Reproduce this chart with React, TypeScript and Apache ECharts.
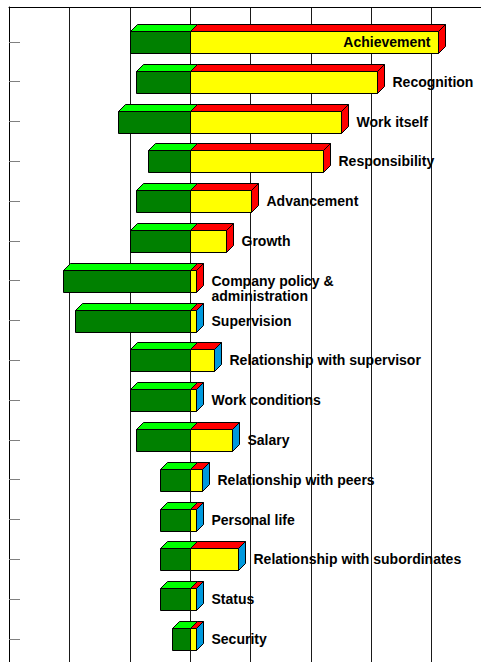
import React, { useEffect, useRef } from "react";
import * as echarts from "echarts";

const categories: string[] = [
  "Achievement",
  "Recognition",
  "Work itself",
  "Responsibility",
  "Advancement",
  "Growth",
  "Company policy &\nadministration",
  "Supervision",
  "Relationship with supervisor",
  "Work conditions",
  "Salary",
  "Relationship with peers",
  "Personal life",
  "Relationship with subordinates",
  "Status",
  "Security",
];

// percentage of events leading to extreme dissatisfaction (negative) / satisfaction (positive)
const dissatisfaction: number[] = [-10, -9, -12, -7, -9, -10, -21, -19, -10, -10, -9, -5, -5, -5, -5, -3];
const satisfaction: number[] = [41, 31, 25, 22, 10, 6, 1, 1, 4, 1, 7, 2, 1, 8, 1, 1];
// M = motivator (red side), H = hygiene (blue side)
const factorGroup: string[] = ["M", "M", "M", "M", "M", "M", "M", "H", "H", "H", "H", "H", "H", "H", "H", "H"];

const xTicks = { min: -30, max: 50, interval: 10 };

const FONT_FAMILY = '"Liberation Sans", Arial, Helvetica, sans-serif';
const VIEW_W = 481;

let measureCtx: CanvasRenderingContext2D | null = null;
function textWidth(s: string): number {
  if (!measureCtx) {
    const c = document.createElement("canvas");
    measureCtx = c.getContext("2d");
  }
  if (!measureCtx) return s.length * 8;
  measureCtx.font = "bold 14px " + FONT_FAMILY;
  return Math.max(...s.split("\n").map((l) => measureCtx!.measureText(l).width));
}

export default function App() {
  const ref = useRef<HTMLDivElement>(null);

  useEffect(() => {
    if (!ref.current) return;
    const chart = echarts.init(ref.current, null, { renderer: "svg" });
    const px = (v: number) => Math.round(v) + 0.5;

    const option: any = {
      animation: false,
      backgroundColor: "#ffffff",
      grid: [
        { left: 9, top: 7, right: 0, bottom: 0, containLabel: false, outerBoundsMode: "none" },
        { left: 9, top: 22, right: 0, height: 636.8, containLabel: false, outerBoundsMode: "none" },
      ],
      xAxis: [
        {
          type: "value",
          gridIndex: 0,
          position: "top",
          min: xTicks.min,
          max: xTicks.max,
          interval: xTicks.interval,
          axisLine: { show: true, onZero: false, lineStyle: { color: "#000", width: 1 } },
          axisTick: { show: false },
          axisLabel: { show: false },
          splitLine: { show: true, lineStyle: { color: "#1a1a1a", width: 1 } },
        },
        {
          type: "value",
          gridIndex: 1,
          min: xTicks.min,
          max: xTicks.max,
          interval: xTicks.interval,
          axisLine: { show: false, onZero: false },
          axisTick: { show: false },
          axisLabel: { show: false },
          splitLine: { show: false },
        },
      ],
      yAxis: [
        {
          type: "value",
          gridIndex: 0,
          min: 0,
          max: 1,
          axisLine: { show: true, onZero: false, lineStyle: { color: "#000", width: 1 } },
          axisTick: { show: false },
          axisLabel: { show: false },
          splitLine: { show: false },
        },
        {
          type: "category",
          gridIndex: 1,
          inverse: true,
          data: categories,
          axisLine: { show: false, onZero: false },
          axisTick: {
            show: true,
            inside: true,
            alignWithLabel: true,
            interval: 0,
            length: 11,
            lineStyle: { color: "#808080", width: 1 },
          },
          axisLabel: { show: false, interval: 0 },
          splitLine: { show: false },
        },
      ],
      series: [
        {
          type: "custom",
          xAxisIndex: 1,
          yAxisIndex: 1,
          clip: false,
          encode: { x: [0, 1], y: 2 },
          data: satisfaction.map((p, i) => [dissatisfaction[i], p, i]),
          renderItem: (params: any, api: any) => {
            const neg = api.value(0);
            const pos = api.value(1);
            const i = api.value(2);
            const c0 = api.coord([0, i]);
            const cy = c0[1];
            const x0 = px(c0[0]);
            const xn = px(api.coord([neg, i])[0]);
            const xp = px(api.coord([pos, i])[0]);
            const top = px(cy - 11);
            const bot = top + 22;
            const d = 7;
            const stroke = { stroke: "#000", lineWidth: 1 };
            const sideColor = factorGroup[i] === "M" ? "#ff0000" : "#0099dd";
            const label = categories[i];
            const w = textWidth(label);
            const outsideX = xp + 15;
            const inside = outsideX + w > VIEW_W;
            const children: any[] = [
              {
                type: "rect",
                shape: { x: xn, y: top, width: x0 - xn, height: bot - top },
                style: { fill: "#008000", ...stroke },
              },
              {
                type: "polygon",
                shape: { points: [[xn, top], [xn + d, top - d], [x0 + d, top - d], [x0, top]] },
                style: { fill: "#00ff00", ...stroke },
              },
              {
                type: "rect",
                shape: { x: x0, y: top, width: xp - x0, height: bot - top },
                style: { fill: "#ffff00", ...stroke },
              },
              {
                type: "polygon",
                shape: { points: [[x0, top], [x0 + d, top - d], [xp + d, top - d], [xp, top]] },
                style: { fill: "#ff0000", ...stroke },
              },
              {
                type: "polygon",
                shape: { points: [[xp, top], [xp + d, top - d], [xp + d, bot - d], [xp, bot]] },
                style: { fill: sideColor, ...stroke },
              },
              {
                type: "text",
                style: {
                  text: label,
                  x: inside ? xp - 8 : outsideX,
                  y: cy - 7.5,
                  fill: "#000",
                  fontSize: 14,
                  fontWeight: "bold",
                  fontFamily: FONT_FAMILY,
                  lineHeight: 15,
                  align: inside ? "right" : "left",
                  textAlign: inside ? "right" : "left",
                  verticalAlign: "top",
                  textVerticalAlign: "top",
                },
              },
            ];
            return { type: "group", children };
          },
        },
      ],
    };

    chart.setOption(option);
    return () => chart.dispose();
  }, []);

  return (
    <div
      ref={ref}
      style={{ position: "fixed", left: 0, top: 0, width: 492, height: 674 }}
    />
  );
}
